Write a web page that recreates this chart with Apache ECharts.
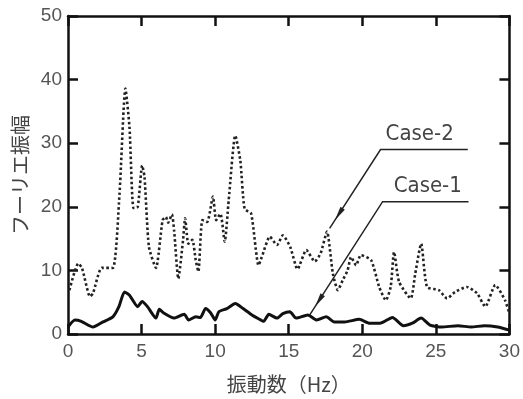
<!DOCTYPE html>
<html>
<head>
<meta charset="utf-8">
<script src="https://cdn.jsdelivr.net/npm/echarts@6/dist/echarts.min.js"></script>
<style>
  html, body { margin: 0; padding: 0; background: #fff; }
  #chart { width: 523px; height: 399px; }
</style>
</head>
<body>
<div id="chart"></div>
<script>
// Case-2 (dotted)
const case2_x = [0.1, 0.7, 0.95, 1.5, 1.7, 2.3, 3.05, 3.5, 3.9, 4.18, 4.45, 4.74, 5.04, 5.2, 5.5, 5.98,
  6.43, 6.65, 6.8, 7.06, 7.21, 7.5, 7.82, 7.96, 8.18, 8.45, 8.68, 8.86, 9.13, 9.46, 9.85, 10.07,
  10.36, 10.65, 10.92, 11.37, 11.71, 12.0, 12.45, 12.95, 13.17, 13.72, 14.2, 14.6, 15.1, 15.6,
  16.2, 16.77, 17.17, 17.6, 18.0, 18.34, 18.68, 19.0, 19.24, 19.58, 19.9, 20.6, 21.15, 21.6,
  21.93, 22.16, 22.5, 23.29, 23.6, 24.0, 24.4, 25.2, 25.76, 26.3, 27.1, 27.8, 28.36, 29.04, 29.7, 30];
const case2_y = [6.9, 11.1, 10.4, 5.9, 6.4, 10.4, 10.4, 22, 38.6, 32.5, 19.8, 20, 26.5, 24.7, 13.7, 10.4,
  17.9, 18.4, 17.5, 18.8, 16.3, 8.7, 14.8, 18.2, 14.2, 14.8, 11.6, 9.8, 17.9, 17.6, 21.6, 17.9,
  18.9, 14.5, 21, 31.2, 27.3, 19.7, 18.9, 10.8, 12.1, 15.3, 14, 15.5, 13.7, 10.2,
  13.2, 11.4, 12.7, 16.1, 9.5, 6.9, 8.5, 10, 12.1, 10.8, 12.4, 11.6, 7.4, 5.3,
  7.4, 12.9, 8.2, 5.6, 9.5, 14.2, 7.4, 6.9, 5.6, 6.6, 7.4, 6.4, 4.3, 7.7, 5.3, 3.2];

// Case-1 (solid)
const case1_x = [0, 0.47, 0.9, 1.7, 2.38, 3.05, 3.46, 3.84, 4.18, 4.74, 5.04, 5.4, 5.98, 6.2, 6.5,
  7.2, 7.9, 8.2, 8.68, 9.0, 9.35, 9.7, 10.0, 10.25, 10.8, 11.37, 11.9, 12.5, 12.95, 13.3, 13.65,
  14.2, 14.6, 15.08, 15.5, 16.3, 16.9, 17.55, 18.1, 18.8, 19.8, 20.5, 21.2, 22.05, 22.8, 23.4,
  24.0, 24.6, 25.4, 26.5, 27.4, 28.3, 29.2, 30];
const case1_y = [1.1, 2.2, 2.0, 1.1, 1.9, 2.7, 4.3, 6.6, 6.1, 4.3, 5.1, 4.3, 2.5, 3.9, 3.3,
  2.5, 3.1, 2.2, 2.7, 2.6, 4.0, 3.3, 2.2, 3.5, 4.0, 4.8, 4.0, 3.0, 2.4, 2.0, 3.1,
  2.5, 3.2, 3.5, 2.5, 3.0, 2.2, 2.7, 1.9, 1.9, 2.3, 1.7, 1.7, 2.6, 1.3, 1.7,
  2.5, 1.4, 1.1, 1.3, 1.1, 1.3, 1.1, 0.6];

// leader lines in data units: [label end, elbow, tip]
const lead2 = [[27.17, 29.0], [21.24, 29.0], [17.78, 16.6]];
const lead1 = [[27.22, 20.8], [21.38, 20.8], [16.43, 3.0]];
const label2 = ['Case-2', 23.9, 31.4];
const label1 = ['Case-1', 24.45, 23.2];

const xTicks = [0, 5, 10, 15, 20, 25, 30];
const yTicks = [0, 10, 20, 30, 40, 50];

const zip = (xs, ys) => xs.map((x, i) => [x, ys[i]]);
const gray = '#555';
const axisFont = () => ({ fontFamily: 'Liberation Sans, Arial, sans-serif', fontSize: 19, color: gray });
const frame = () => ({ show: true, onZero: false, lineStyle: { color: '#111', width: 2.5 } });
const tick = () => ({ show: true, inside: true, length: 10, lineStyle: { color: '#111', width: 2.5 } });

const chart = echarts.init(document.getElementById('chart'));

chart.setOption({
  animation: false,
  backgroundColor: '#fff',
  grid: { left: 68, right: 10, top: 16, bottom: 65 },
  xAxis: [
    {
      type: 'value', min: 0, max: 30, interval: 5,
      name: '振動数（Hz）', nameLocation: 'middle', nameGap: 40,
      nameTextStyle: { fontFamily: 'Noto Sans CJK JP', fontSize: 20, color: '#444' },
      axisLine: frame(),
      axisTick: tick(),
      axisLabel: Object.assign({ margin: 8, formatter: v => xTicks.includes(v) ? v : '' }, axisFont()),
      splitLine: { show: false }
    },
    {
      type: 'value', min: 0, max: 30, interval: 5, position: 'top',
      axisLine: frame(),
      axisTick: tick(),
      axisLabel: { show: false },
      splitLine: { show: false }
    }
  ],
  yAxis: [
    {
      type: 'value', min: 0, max: 50, interval: 10,
      name: 'フーリエ振幅', nameLocation: 'middle', nameGap: 36, nameRotate: 90,
      nameTextStyle: { fontFamily: 'Noto Sans CJK JP', fontSize: 20, color: '#444' },
      axisLine: frame(),
      axisTick: tick(),
      axisLabel: Object.assign({ margin: 6, formatter: v => yTicks.includes(v) ? v : '' }, axisFont()),
      splitLine: { show: false }
    },
    {
      type: 'value', min: 0, max: 50, interval: 10, position: 'right',
      axisLine: frame(),
      axisTick: tick(),
      axisLabel: { show: false },
      splitLine: { show: false }
    }
  ],
  series: [
    {
      name: 'Case-2', type: 'line', data: zip(case2_x, case2_y),
      showSymbol: false, smooth: 0.2,
      lineStyle: { color: '#222', width: 2.6, type: [2.5, 2.5] }
    },
    {
      name: 'Case-1', type: 'line', data: zip(case1_x, case1_y),
      showSymbol: false, smooth: 0.2,
      lineStyle: { color: '#111', width: 3 }
    }
  ]
});

const px = p => chart.convertToPixel({ gridIndex: 0 }, p);

// leader lines + labels placed through the axes
function leader(pts) {
  const p = pts.map(px);
  const tip = p[2], elbow = p[1];
  const dx = elbow[0] - tip[0], dy = elbow[1] - tip[1];
  const len = Math.sqrt(dx * dx + dy * dy);
  const ux = dx / len, uy = dy / len;
  // arrowhead sits a bit up the line from the tip
  const a = [tip[0] + ux * 10, tip[1] + uy * 10];
  const b = [a[0] + ux * 14, a[1] + uy * 14];
  const w = 2.6;
  return [
    { type: 'polyline', shape: { points: p }, style: { stroke: '#222', lineWidth: 1.5, fill: null } },
    { type: 'polygon', shape: { points: [a, [b[0] - uy * w, b[1] + ux * w], [b[0] + uy * w, b[1] - ux * w]] },
      style: { fill: '#222' } }
  ];
}
function label(l) {
  const p = px([l[1], l[2]]);
  return {
    type: 'text', x: p[0], y: p[1],
    style: { text: l[0], fill: '#444', align: 'center', verticalAlign: 'middle',
      font: '22px "Liberation Sans Narrow", "DejaVu Sans Condensed", sans-serif' }
  };
}

chart.setOption({
  graphic: [].concat(leader(lead2), leader(lead1), [label(label2), label(label1)])
});
</script>
</body>
</html>
